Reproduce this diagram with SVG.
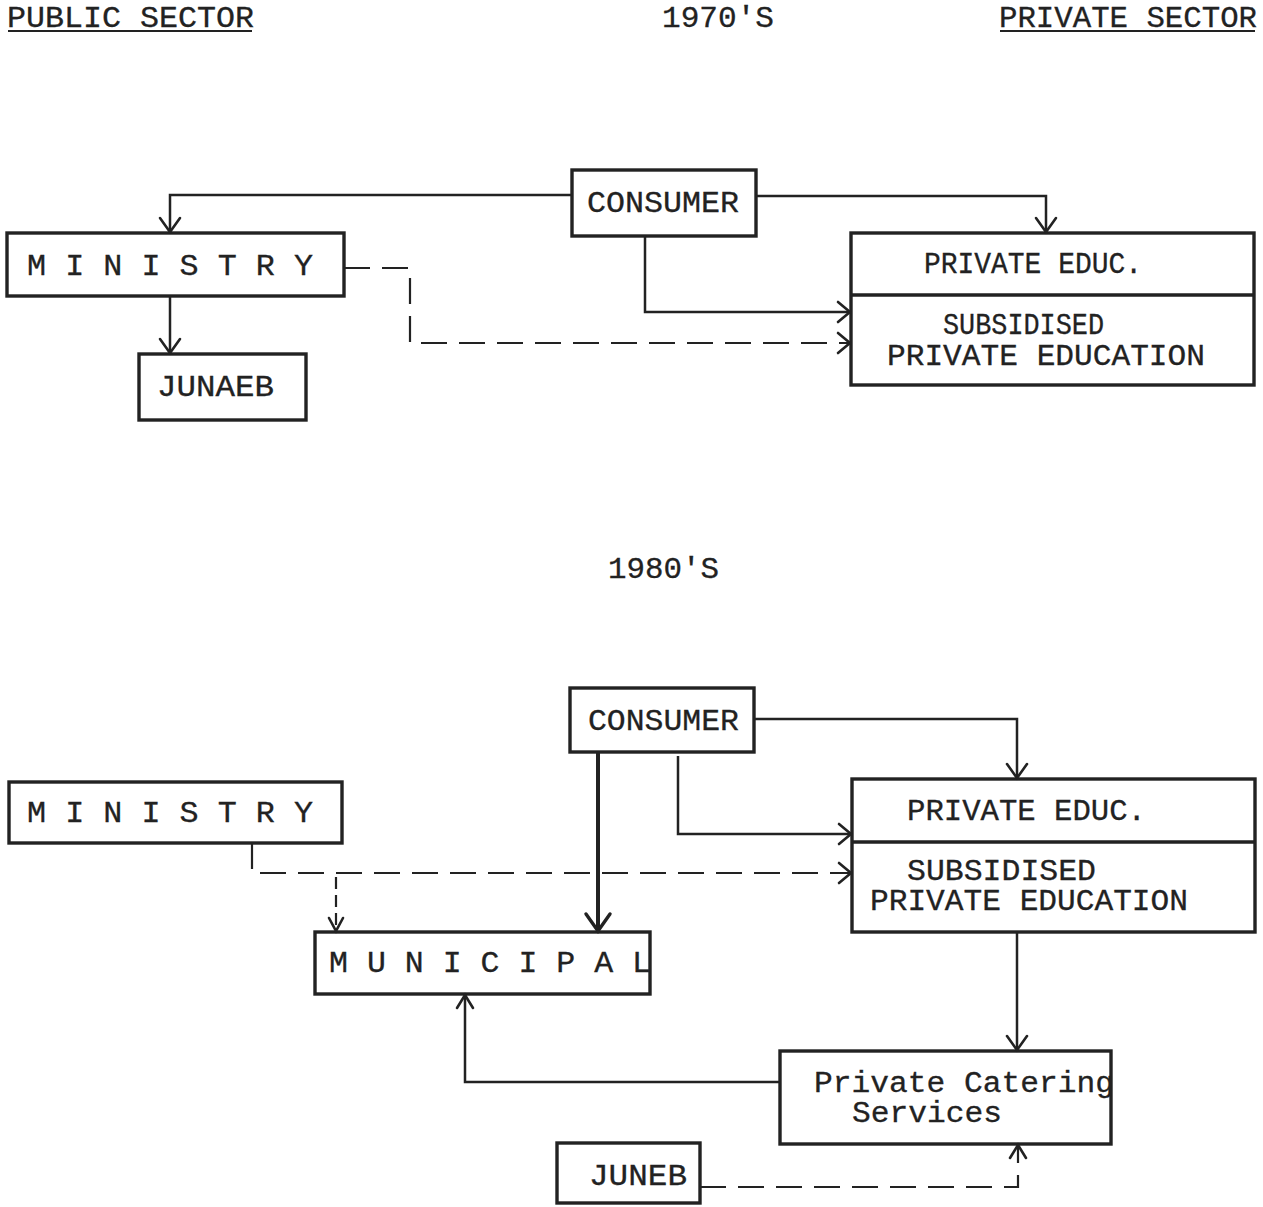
<svg xmlns="http://www.w3.org/2000/svg" width="1263" height="1207" viewBox="0 0 1263 1207">
  <style>
    text { font-family: "Liberation Mono", "DejaVu Sans Mono", monospace; font-size: 29px; fill: #222; stroke: #222; stroke-width: 0.3; }
    .box { fill: none; stroke: #222; stroke-width: 3.4; }
    .ln { fill: none; stroke: #222; stroke-width: 2.5; }
    .thick { fill: none; stroke: #222; stroke-width: 4; }
    .dash { fill: none; stroke: #222; stroke-width: 2.2; stroke-dasharray: 26 12; }
    .head { fill: none; stroke: #222; stroke-width: 2.6; stroke-linecap: round; }
    .ul { stroke: #222; stroke-width: 2; }
  </style>

  <!-- Headings -->
  <g id="headings">
    <text x="7" y="27" textLength="247" lengthAdjust="spacingAndGlyphs">PUBLIC SECTOR</text>
    <line class="ul" x1="8" y1="31" x2="252" y2="31"/>
    <text x="662" y="27" textLength="112" lengthAdjust="spacingAndGlyphs">1970'S</text>
    <text x="999" y="27" textLength="258" lengthAdjust="spacingAndGlyphs">PRIVATE SECTOR</text>
    <line class="ul" x1="1000" y1="31" x2="1255" y2="31"/>
    <text x="608" y="578" textLength="111" lengthAdjust="spacingAndGlyphs">1980'S</text>
  </g>

  <!-- 1970s nodes -->
  <g id="ministry-1970">
    <rect class="box" x="7" y="233" width="337" height="63"/>
    <text x="27" y="275" textLength="286" lengthAdjust="spacingAndGlyphs">M I N I S T R Y</text>
  </g>
  <g id="junaeb-1970">
    <rect class="box" x="139" y="354" width="167" height="66"/>
    <text x="157" y="396" textLength="117" lengthAdjust="spacingAndGlyphs">JUNAEB</text>
  </g>
  <g id="consumer-1970">
    <rect class="box" x="572" y="170" width="184" height="66"/>
    <text x="587" y="212" textLength="152" lengthAdjust="spacingAndGlyphs">CONSUMER</text>
  </g>
  <g id="private-1970">
    <rect class="box" x="851" y="233" width="403" height="152"/>
    <line class="box" x1="851" y1="295" x2="1254" y2="295"/>
    <text x="924" y="273" textLength="218" lengthAdjust="spacingAndGlyphs">PRIVATE EDUC.</text>
    <text x="943" y="334" textLength="161" lengthAdjust="spacingAndGlyphs">SUBSIDISED</text>
    <text x="887" y="365" textLength="318" lengthAdjust="spacingAndGlyphs">PRIVATE EDUCATION</text>
  </g>

  <!-- 1980s nodes -->
  <g id="consumer-1980">
    <rect class="box" x="570" y="688" width="184" height="64"/>
    <text x="588" y="730" textLength="151" lengthAdjust="spacingAndGlyphs">CONSUMER</text>
  </g>
  <g id="ministry-1980">
    <rect class="box" x="9" y="782" width="333" height="61"/>
    <text x="27" y="822" textLength="286" lengthAdjust="spacingAndGlyphs">M I N I S T R Y</text>
  </g>
  <g id="private-1980">
    <rect class="box" x="852" y="779" width="403" height="153"/>
    <line class="box" x1="852" y1="842" x2="1255" y2="842"/>
    <text x="907" y="820" textLength="239" lengthAdjust="spacingAndGlyphs">PRIVATE EDUC.</text>
    <text x="907" y="880" textLength="189" lengthAdjust="spacingAndGlyphs">SUBSIDISED</text>
    <text x="870" y="910" textLength="318" lengthAdjust="spacingAndGlyphs">PRIVATE EDUCATION</text>
  </g>
  <g id="municipal">
    <rect class="box" x="315" y="932" width="335" height="62"/>
    <text x="329" y="972" textLength="322" lengthAdjust="spacingAndGlyphs">M U N I C I P A L</text>
  </g>
  <g id="catering">
    <rect class="box" x="780" y="1051" width="331" height="93"/>
    <text x="814" y="1092" textLength="300" lengthAdjust="spacingAndGlyphs">Private Catering</text>
    <text x="852" y="1122" textLength="150" lengthAdjust="spacingAndGlyphs">Services</text>
  </g>
  <g id="juneb">
    <rect class="box" x="557" y="1143" width="143" height="60"/>
    <text x="589" y="1185" textLength="98" lengthAdjust="spacingAndGlyphs">JUNEB</text>
  </g>

  <!-- Connectors -->
  <g id="connectors">
    <!-- 1970s -->
    <polyline class="ln" points="572,195 170,195 170,232"/>
    <polyline class="head" points="160,218 170,232 180,218"/>
    <polyline class="ln" points="756,196 1046,196 1046,232"/>
    <polyline class="head" points="1036,218 1046,232 1056,218"/>
    <polyline class="ln" points="645,236 645,312 850,312"/>
    <polyline class="head" points="838,302 850,312 838,322"/>
    <polyline class="dash" points="344,268 410,268 410,343 850,343"/>
    <polyline class="head" points="838,333 850,343 838,353"/>
    <polyline class="ln" points="170,296 170,353"/>
    <polyline class="head" points="160,339 170,353 180,339"/>

    <!-- 1980s -->
    <polyline class="ln" points="754,719 1017,719 1017,778"/>
    <polyline class="head" points="1007,764 1017,778 1027,764"/>
    <polyline class="ln" points="678,756 678,834 851,834"/>
    <polyline class="head" points="839,824 851,834 839,844"/>
    <polyline class="thick" points="598,752 598,931"/>
    <polyline class="head" style="stroke-width:3.4" points="586,914 598,931 610,914"/>
    <polyline class="dash" points="252,843 252,873 851,873"/>
    <polyline class="head" points="839,863 851,873 839,883"/>
    <polyline class="dash" style="stroke-dasharray:12 6" points="336,877 336,931"/>
    <polyline class="head" points="329,918 336,931 343,918"/>
    <polyline class="ln" points="1017,932 1017,1050"/>
    <polyline class="head" points="1007,1036 1017,1050 1027,1036"/>
    <polyline class="ln" points="780,1082 465,1082 465,995"/>
    <polyline class="head" points="457,1008 465,995 473,1008"/>
    <polyline class="dash" points="700,1187 1018,1187 1018,1145"/>
    <polyline class="head" points="1010,1158 1018,1145 1026,1158"/>
  </g>
</svg>
